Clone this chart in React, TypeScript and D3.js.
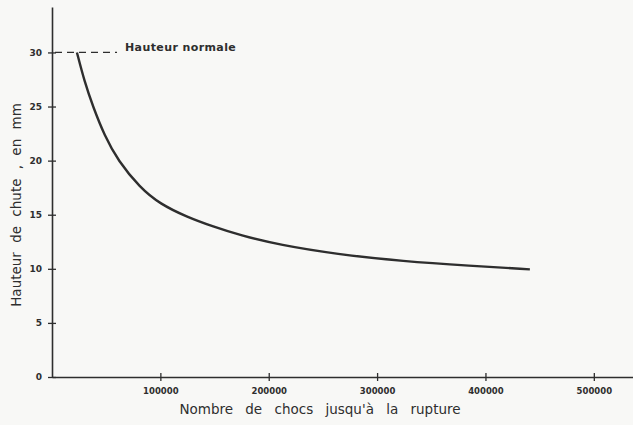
import React, { useRef, useEffect } from "react";
import * as d3 from "d3";

// readings: number of shocks until rupture vs drop height (mm)
const chocs = [
  23000, 30000, 37800, 48500, 60900, 81200, 99600, 124300, 148800, 173400,
  210300, 262600, 324100, 385600, 441000,
];
const hauteur = [
  30, 27.3, 25, 22.3, 20, 17.5, 16.0, 14.8, 13.9, 13.1, 12.2, 11.35, 10.7,
  10.28, 9.95,
];
const xTicks = [100000, 200000, 300000, 400000, 500000];
const yTicks = [0, 5, 10, 15, 20, 25, 30];
const normale = 30;
const normaleEnd = 60000;

const ink = "#2e2e2e";
const font = "'DejaVu Sans', sans-serif";

const App = () => {
  const ref = useRef<SVGSVGElement>(null);
  const width = 633;
  const height = 425;

  useEffect(() => {
    const svg = d3.select(ref.current);
    svg.selectAll("*").remove();

    const x = d3.scaleLinear().domain([0, 538000]).range([52, 635]);
    const y = d3.scaleLinear().domain([0, 34.2]).range([377, 7]);

    svg
      .append("rect")
      .attr("width", width)
      .attr("height", height)
      .attr("fill", "#f8f8f6");

    // x axis
    const xAxisG = svg
      .append("g")
      .attr("transform", `translate(0,${y(0)})`)
      .call(
        d3
          .axisBottom(x)
          .tickValues(xTicks)
          .tickSize(0)
          .tickPadding(11)
          .tickFormat((d) => String(d))
      );
    xAxisG.select(".domain").attr("stroke", ink).attr("stroke-width", 1.6);
    xAxisG
      .selectAll(".tick")
      .append("line")
      .attr("y1", -4)
      .attr("y2", 4)
      .attr("stroke", ink)
      .attr("stroke-width", 1.3);
    xAxisG
      .selectAll(".tick text")
      .attr("fill", ink)
      .attr("font-family", font)
      .attr("font-weight", "bold")
      .attr("font-size", 8.5);

    // y axis
    const yAxisG = svg
      .append("g")
      .attr("transform", `translate(${x(0)},0)`)
      .call(
        d3
          .axisLeft(y)
          .tickValues(yTicks)
          .tickSize(0)
          .tickPadding(10)
          .tickFormat((d) => String(d))
      );
    yAxisG.select(".domain").attr("stroke", ink).attr("stroke-width", 1.6);
    yAxisG
      .selectAll(".tick")
      .append("line")
      .attr("x1", -4)
      .attr("x2", 4)
      .attr("stroke", ink)
      .attr("stroke-width", 1.3);
    yAxisG
      .selectAll(".tick text")
      .attr("fill", ink)
      .attr("font-family", font)
      .attr("font-weight", "bold")
      .attr("font-size", 9);

    // "Hauteur normale" dashed line
    svg
      .append("line")
      .attr("x1", x(0) + 3)
      .attr("x2", x(normaleEnd))
      .attr("y1", y(normale))
      .attr("y2", y(normale))
      .attr("stroke", ink)
      .attr("stroke-width", 1.3)
      .attr("stroke-dasharray", "7,5");
    svg
      .append("text")
      .attr("x", x(normaleEnd) + 8)
      .attr("y", y(normale) - 1)
      .attr("fill", ink)
      .attr("font-family", font)
      .attr("font-weight", "bold")
      .attr("font-size", 11)
      .attr("letter-spacing", 0.4)
      .text("Hauteur normale");

    // curve
    const data = chocs.map((c, i) => [c, hauteur[i]] as [number, number]);
    svg
      .append("path")
      .datum(data)
      .attr("fill", "none")
      .attr("stroke", ink)
      .attr("stroke-width", 2.4)
      .attr(
        "d",
        d3
          .line<[number, number]>()
          .x((d) => x(d[0]))
          .y((d) => y(d[1]))
          .curve(d3.curveBasis)
      );

    // axis labels
    svg
      .append("text")
      .attr("x", 320)
      .attr("y", 414)
      .attr("text-anchor", "middle")
      .attr("fill", ink)
      .attr("font-family", font)
      .attr("font-size", 13.5)
      .attr("word-spacing", 8)
      .text("Nombre de chocs jusqu'à la rupture");

    svg
      .append("text")
      .attr("transform", `translate(21,${y(15.9)}) rotate(-90)`)
      .attr("text-anchor", "middle")
      .attr("fill", ink)
      .attr("font-family", font)
      .attr("font-size", 13.5)
      .attr("word-spacing", 5)
      .text("Hauteur de chute , en mm");
  }, []);

  return (
    <svg
      ref={ref}
      width={width}
      height={height}
      style={{ position: "absolute", left: 0, top: 0 }}
    ></svg>
  );
};

export default App;
